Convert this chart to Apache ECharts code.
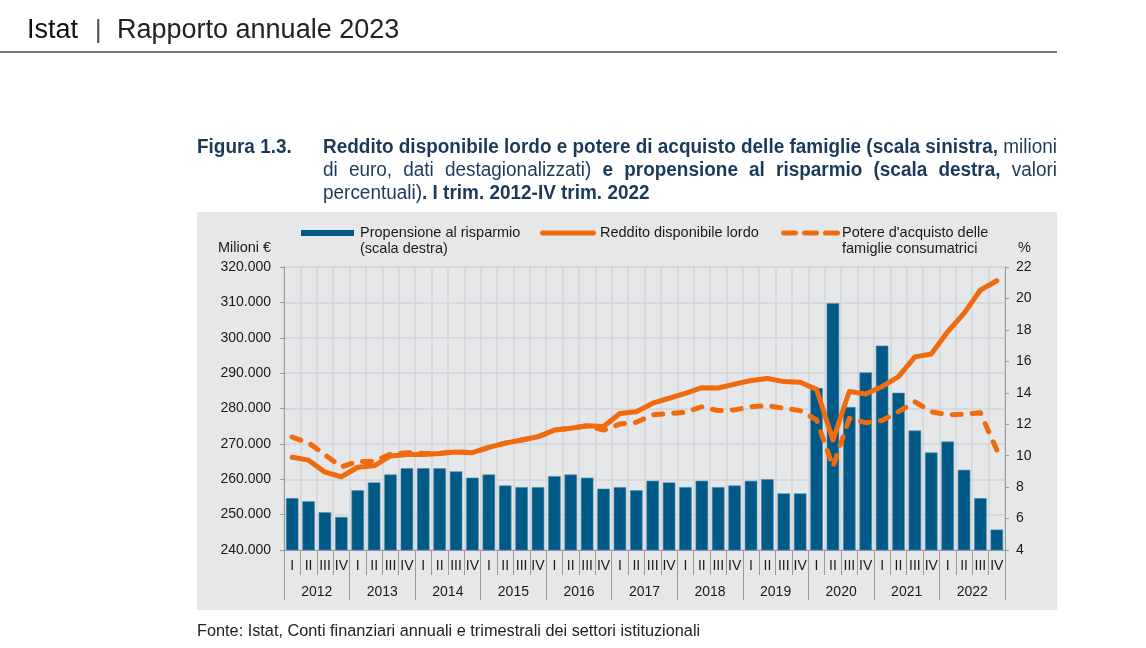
<!DOCTYPE html>
<html>
<head>
<meta charset="utf-8">
<script src="https://cdn.jsdelivr.net/npm/echarts@6/dist/echarts.min.js"></script>
<style>
  html,body{margin:0;padding:0;background:#fff;width:1146px;height:648px;overflow:hidden;}
  #bg{position:absolute;left:197px;top:212px;width:860px;height:398px;background:#e6e7e9;}
  #chart{position:absolute;left:0;top:0;width:1146px;height:648px;}
  .hdr{position:absolute;top:14px;font-family:"Liberation Sans",Arial,sans-serif;font-size:27px;color:#222;white-space:nowrap;}
  #hline{position:absolute;left:0;top:51px;width:1057px;height:2px;background:#7a7a7a;}
  .ttl{position:absolute;font-family:"Liberation Sans",Arial,sans-serif;font-size:19.5px;color:#1b3a5b;line-height:23px;white-space:nowrap;transform-origin:0 0;}
  .b{font-weight:bold;}
  #foot{position:absolute;left:197px;top:621px;font-family:"Liberation Sans",Arial,sans-serif;font-size:16.3px;color:#222;white-space:nowrap;}
</style>
</head>
<body>
<div id="bg"></div>
<div id="chart"></div>
<div class="hdr" style="left:27px;color:#111;">Istat</div>
<div class="hdr" style="left:95px;color:#5a4a40;font-size:25px;top:15px;">|</div>
<div class="hdr" style="left:117px;">Rapporto annuale 2023</div>
<div id="hline"></div>
<div class="ttl b" id="fig" style="left:197px;top:135px;">Figura 1.3.</div>
<div class="ttl" id="t1" style="left:323px;top:135px;"><span class="b">Reddito disponibile lordo e potere di acquisto delle famiglie (scala sinistra,</span> milioni</div>
<div class="ttl" id="t2" style="left:323px;top:158px;">di euro, dati destagionalizzati) <span class="b">e propensione al risparmio (scala destra,</span> valori</div>
<div class="ttl" id="t3" style="left:323px;top:181px;">percentuali)<span class="b">. I trim. 2012-IV trim. 2022</span></div>
<div id="foot">Fonte: Istat, Conti finanziari annuali e trimestrali dei settori istituzionali</div>
<script>
const years = ['2012','2013','2014','2015','2016','2017','2018','2019','2020','2021','2022'];
const quarterNames = ['I','II','III','IV'];
const quarters = [];
years.forEach(y => quarterNames.forEach(q => quarters.push(q + ' ' + y)));

// Propensione al risparmio (%), scala destra
const propensione = [7.3,7.1,6.4,6.1, 7.8,8.3,8.8,9.2, 9.2,9.2,9.0,8.6, 8.8,8.1,8.0,8.0,
  8.7,8.8,8.6,7.9, 8.0,7.8,8.4,8.3, 8.0,8.4,8.0,8.1, 8.4,8.5,7.6,7.6,
  14.3,19.7,13.1,15.3, 17.0,14.0,11.6,10.2, 10.9,9.1,7.3,5.3];
// Reddito disponibile lordo (milioni di euro)
const reddito = [266200,265400,262000,260700, 263400,263800,266600,267000, 267000,267300,267700,267500,
  269000,270200,271100,272000, 273900,274400,275100,274900, 278600,279100,281500,282900,
  284300,285900,285800,286900, 287900,288500,287600,287400, 285400,271100,284800,284100,
  286200,289000,294600,295400, 301700,306900,313500,316100];
// Potere d'acquisto delle famiglie consumatrici (milioni di euro)
const potere = [271900,270300,266900,263500, 265000,265000,267100,267500, 267300,267300,267800,267500,
  269000,270200,271100,272000, 273900,274400,275100,273900, 275600,276100,278200,278600,
  278900,280500,279400,279600, 280500,280800,280100,279400, 276800,263500,277200,276000,
  276600,279100,281900,279100, 278200,278400,278800,268300];

// condensed title: scale horizontally so line 1 fills the justified width
(function(){
  const W = 734;
  const t1 = document.getElementById('t1');
  const s = W / t1.getBoundingClientRect().width;
  ['fig','t1','t2','t3'].forEach(id => {
    document.getElementById(id).style.transform = 'scaleX(' + s + ')';
  });
  const t2 = document.getElementById('t2');
  t2.style.width = (W / s) + 'px';
  t2.style.textAlign = 'justify';
  t2.style.textAlignLast = 'justify';
})();

const BLUE = '#005a88', ORANGE = '#f06a10', TXT = '#1a1a1a', AX = '#9a9a9a', GRID = '#d3d4d7';
const FONT = '"Liberation Sans", Arial, sans-serif';
const fmt = v => String(v).replace(/\B(?=(\d{3})+(?!\d))/g, '.');
const LFONT = '14.5px ' + FONT;

const chart = echarts.init(document.getElementById('chart'));
chart.setOption({
  animation: false,
  textStyle: {fontFamily: FONT},
  grid: {left: 284, right: 141, top: 267, bottom: 98, containLabel: false},
  xAxis: [
    {type: 'category', data: quarters, boundaryGap: true,
     axisLine: {show: true, lineStyle: {color: AX, width: 1}},
     axisTick: {show: true, interval: 0, length: 25, lineStyle: {color: AX}},
     axisLabel: {interval: 0, margin: 9, color: TXT, fontSize: 14, fontFamily: FONT,
                 formatter: v => v.split(' ')[0]},
     splitLine: {show: true, interval: 0, lineStyle: {color: GRID, width: 1.5}}},
    {type: 'category', data: years, position: 'bottom', boundaryGap: true,
     axisLine: {show: false},
     axisTick: {show: true, interval: 0, length: 50, lineStyle: {color: AX}},
     axisLabel: {interval: 0, margin: 35, color: TXT, fontSize: 14, fontFamily: FONT},
     splitLine: {show: false}}
  ],
  yAxis: [
    {type: 'value', min: 240000, max: 320000, interval: 10000, position: 'left',
     axisLine: {show: true, lineStyle: {color: AX}},
     axisTick: {show: true, length: 4, lineStyle: {color: AX}},
     axisLabel: {margin: 13, color: TXT, fontSize: 14, fontFamily: FONT, formatter: fmt},
     splitLine: {show: true, lineStyle: {color: GRID, width: 1.5}}},
    {type: 'value', min: 4, max: 22, interval: 2, position: 'right',
     axisLine: {show: true, lineStyle: {color: AX}},
     axisTick: {show: true, length: 4, lineStyle: {color: AX}},
     axisLabel: {margin: 11, color: TXT, fontSize: 14, fontFamily: FONT},
     splitLine: {show: false}}
  ],
  series: [
    {name: 'Propensione al risparmio (scala destra)', type: 'bar', xAxisIndex: 0, yAxisIndex: 1,
     data: propensione, barWidth: 12.5,
     itemStyle: {color: BLUE, borderColor: '#4f8aab', borderWidth: 0.6}, z: 2},
    {name: "Potere d'acquisto delle famiglie consumatrici", type: 'line', xAxisIndex: 0, yAxisIndex: 0,
     data: potere, symbol: 'none', smooth: false,
     lineStyle: {color: ORANGE, width: 5, type: [9, 11], cap: 'round', join: 'round'}, z: 3},
    {name: 'Reddito disponibile lordo', type: 'line', xAxisIndex: 0, yAxisIndex: 0,
     data: reddito, symbol: 'none', smooth: false,
     lineStyle: {color: ORANGE, width: 5, cap: 'round', join: 'round'}, z: 4}
  ],
  graphic: [
    {type: 'rect', shape: {x: 301, y: 230, width: 53, height: 6}, style: {fill: BLUE}},
    {type: 'text', x: 360, y: 225, style: {text: 'Propensione al risparmio\n(scala destra)', fill: TXT, font: LFONT, lineHeight: 16, align: 'left', verticalAlign: 'top'}},
    {type: 'line', shape: {x1: 542.5, y1: 233, x2: 593.5, y2: 233}, style: {stroke: ORANGE, lineWidth: 5, lineCap: 'round'}},
    {type: 'text', x: 600, y: 225, style: {text: 'Reddito disponibile lordo', fill: TXT, font: LFONT, lineHeight: 16, align: 'left', verticalAlign: 'top'}},
    {type: 'line', shape: {x1: 783.5, y1: 233, x2: 837.5, y2: 233}, style: {stroke: ORANGE, lineWidth: 5, lineCap: 'round', lineDash: [12, 9]}},
    {type: 'text', x: 842, y: 225, style: {text: "Potere d'acquisto delle\nfamiglie consumatrici", fill: TXT, font: LFONT, lineHeight: 16, align: 'left', verticalAlign: 'top'}},
    {type: 'text', x: 218, y: 240, style: {text: 'Milioni €', fill: TXT, font: LFONT, align: 'left', verticalAlign: 'top'}},
    {type: 'text', x: 1018, y: 240, style: {text: '%', fill: TXT, font: LFONT, align: 'left', verticalAlign: 'top'}}
  ]
});
</script>
</body>
</html>
